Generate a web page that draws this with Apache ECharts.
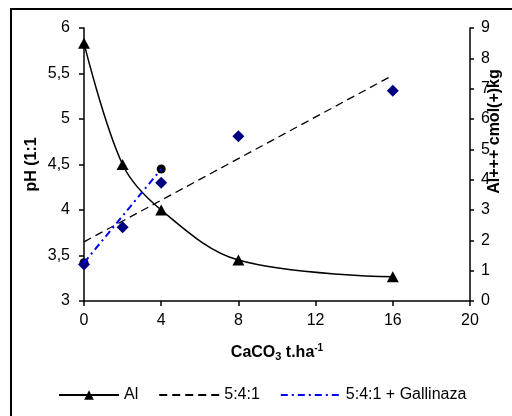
<!DOCTYPE html>
<html>
<head>
<meta charset="utf-8">
<script src="https://cdn.jsdelivr.net/npm/echarts@6/dist/echarts.min.js"></script>
<style>
html,body{margin:0;padding:0;background:#fff;overflow:hidden;}
#c{width:512px;height:416px;}
</style>
</head>
<body>
<div id="c"></div>
<script>
// Data
const xTicks = [0, 4, 8, 12, 16, 20];
const phTicks = ['3', '3,5', '4', '4,5', '5', '5,5', '6'];
const alTicks = ['0', '1', '2', '3', '4', '5', '6', '7', '8', '9'];

const doseX = [0, 2, 4, 8, 16];
const alValues = [8.5, 4.5, 3.0, 1.35, 0.8];          // Al+++ cmol(+)/kg (right axis)
const ph541 = [3.40, 3.81, 4.30, 4.81, 5.31];          // pH 5:4:1 (diamonds)
const trend541X = [0, 16];
const trend541PH = [3.65, 5.48];                       // dashed trendline 5:4:1
const gallX = [0, 4];
const gallPH = [3.42, 4.45];                           // 5:4:1 + Gallinaza

const zip = (a, b) => a.map((v, i) => [v, b[i]]);
const FONT = 'Liberation Sans';

const chart = echarts.init(document.getElementById('c'));
chart.setOption({
  animation: false,
  backgroundColor: '#fff',
  textStyle: { fontFamily: FONT },
  grid: { left: 84, right: 42, top: 28, bottom: 115, outerBoundsMode: 'none', containLabel: false },
  graphic: [{
    type: 'rect', silent: true, z: -1,
    shape: { x: 11, y: 9, width: 600, height: 500 },
    style: { fill: 'none', stroke: '#000', lineWidth: 2 }
  }],
  legend: {
    left: 53, top: 382,
    itemWidth: 60, itemHeight: 12, itemGap: 20,
    textStyle: { fontFamily: FONT, fontSize: 16, color: '#000' },
    data: [
      { name: 'Al' },
      { name: '5:4:1', itemStyle: { opacity: 0 } },
      { name: '5:4:1 + Gallinaza', itemStyle: { opacity: 0 } }
    ]
  },
  xAxis: {
    type: 'value', min: 0, max: 20, interval: 4,
    name: '{b|CaCO}{s|3}{b| t.ha}{p|-1}',
    nameLocation: 'middle', nameGap: 42, nameMoveOverlap: false,
    nameTextStyle: {
      rich: {
        b: { fontFamily: FONT, fontSize: 16, fontWeight: 'bold', color: '#000' },
        s: { fontFamily: FONT, fontSize: 11, fontWeight: 'bold', color: '#000', verticalAlign: 'bottom', padding: [8, 0, 0, 0] },
        p: { fontFamily: FONT, fontSize: 10, fontWeight: 'bold', color: '#000', verticalAlign: 'top', padding: [0, 0, 8, 0] }
      }
    },
    axisLine: { lineStyle: { color: '#000', width: 1.5 } },
    axisTick: { show: true, length: 5, lineStyle: { color: '#000', width: 1.5 } },
    axisLabel: { fontSize: 16, color: '#000', margin: 12, formatter: v => String(xTicks[xTicks.indexOf(v)]) },
    splitLine: { show: false }
  },
  yAxis: [{
    type: 'value', min: 3, max: 6, interval: 0.5, position: 'left',
    name: 'pH (1:1', nameLocation: 'middle', nameGap: 44, nameMoveOverlap: false,
    nameTextStyle: { fontFamily: FONT, fontSize: 16, fontWeight: 'bold', color: '#000' },
    axisLine: { show: true, lineStyle: { color: '#000', width: 1.5 } },
    axisTick: { show: true, length: 5, lineStyle: { color: '#000', width: 1.5 } },
    axisLabel: { fontSize: 16, color: '#000', margin: 14, formatter: v => phTicks[Math.round((v - 3) / 0.5)] },
    splitLine: { show: false }
  }, {
    type: 'value', min: 0, max: 9, interval: 1, position: 'right',
    name: 'Al+++ cmol(+)kg', nameLocation: 'middle', nameGap: 17, nameRotate: 90, nameMoveOverlap: false,
    nameTextStyle: { fontFamily: FONT, fontSize: 16, fontWeight: 'bold', color: '#000', padding: [0, 0, 0, 66] },
    axisLine: { show: true, lineStyle: { color: '#000', width: 1.5 } },
    axisTick: { show: true, length: 4, lineStyle: { color: '#000', width: 1.5 } },
    axisLabel: { fontSize: 16, color: '#000', margin: 11, formatter: v => alTicks[Math.round(v)] },
    splitLine: { show: false }
  }],
  series: [{
    name: 'Al', type: 'line', yAxisIndex: 1,
    data: zip(doseX, alValues),
    smooth: 0.35,
    symbol: 'triangle', symbolSize: [12, 11],
    itemStyle: { color: '#000' },
    lineStyle: { color: '#000', width: 1.5 },
    z: 5
  }, {
    name: '5:4:1', type: 'line', yAxisIndex: 0,
    data: zip(trend541X, trend541PH),
    symbol: 'none',
    itemStyle: { color: '#000' },
    lineStyle: { color: '#000', width: 1.3, type: [8, 5] },
    z: 3
  }, {
    name: '5:4:1 + Gallinaza', type: 'line', yAxisIndex: 0,
    data: zip(gallX, gallPH),
    symbol: 'none',
    itemStyle: { color: '#0000ff' },
    lineStyle: { color: '#0000ff', width: 2, type: [7, 4, 2, 4] },
    z: 6
  }, {
    name: 'pH 5:4:1', type: 'scatter', yAxisIndex: 0,
    data: zip(doseX, ph541),
    symbol: 'diamond', symbolSize: [12, 12],
    itemStyle: { color: '#000080', opacity: 1 },
    z: 4
  }, {
    name: 'pH Gallinaza', type: 'scatter', yAxisIndex: 0,
    data: zip(gallX, gallPH),
    symbol: 'circle', symbolSize: 9,
    itemStyle: { color: '#000', opacity: 1 },
    z: 3
  }]
});
</script>
</body>
</html>
